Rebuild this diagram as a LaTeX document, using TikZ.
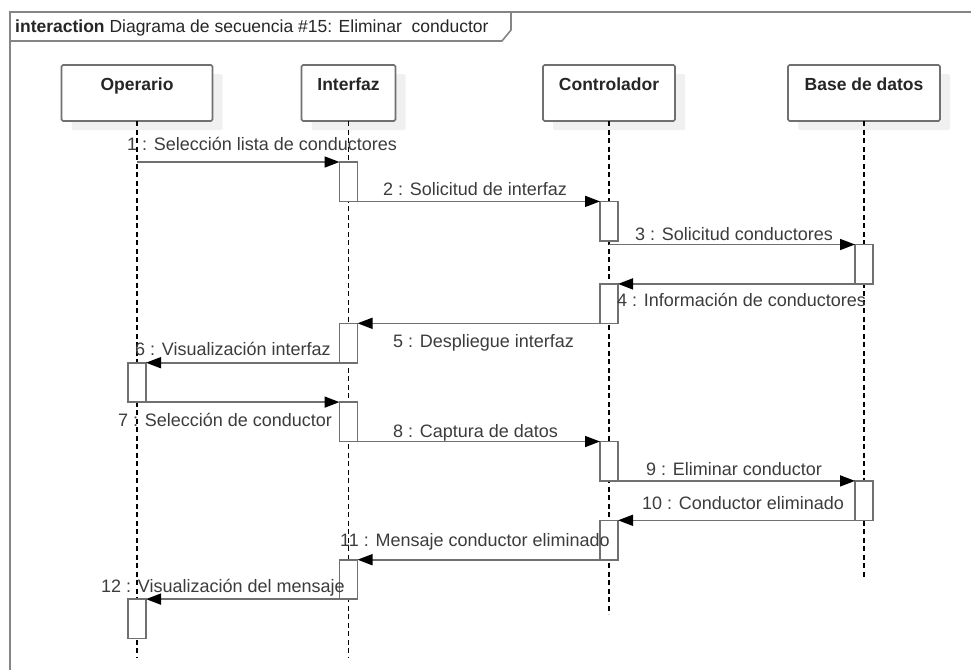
\documentclass[tikz,border=0pt]{standalone}
\usepackage{fontspec}
\setmainfont{Liberation Sans}
\usepackage{tikz}
\usetikzlibrary{arrows.meta,shadows,positioning}

\definecolor{linegray}{HTML}{707070}
\definecolor{framegray}{HTML}{858585}
\definecolor{textgray}{HTML}{3C3C3C}

\tikzset{
  umlfont/.style={font=\fontsize{18}{21}\selectfont},
  head/.style={draw=linegray, line width=1.6pt, fill=white, rounded corners=1.5pt,
    anchor=north, inner xsep=0pt, inner ysep=0pt, outer sep=0pt,
    text height=25pt, text depth=31pt,
    font={\fontsize{17.5}{21}\selectfont\bfseries}, text=black!85,
    drop shadow={shadow xshift=10pt, shadow yshift=-9pt, fill=black!6, opacity=1}},
  act/.style={draw=linegray, line width=1.6pt, fill=white, anchor=north,
    minimum width=18pt, minimum height=39.4pt, inner sep=0pt, outer sep=0pt},
  msg/.style={draw=linegray, line width=1.6pt,
    -{Triangle[length=15pt,width=11pt,color=black]}},
  lifeline/.style={black, line width=1.3pt, dash pattern=on 5pt off 3.5pt},
  lbl/.style={umlfont, text=textgray, inner sep=0pt, anchor=base west},
  frame/.style={draw=framegray, line width=1.6pt}
}

\begin{document}
\begin{tikzpicture}[x=1pt, y=-1pt]
  \useasboundingbox (0,0) rectangle (971,669);

  % frame
  \draw[frame] (10,690) -- (10,12) -- (990,12);
  \draw[frame] (10,41) -- (502,41) -- (511,30) -- (511,12);
  \node[lbl, font=\fontsize{17.5}{21}\selectfont, text=black!85] (title) at (15,33)
    {\textbf{interaction} Diagrama de secuencia \#15: Eliminar\ \ conductor};

  % lifelines
  \node[head, minimum width=151pt] (op)  at (137,65)   {Operario};
  \node[head, minimum width=94pt]  (ifz) at (348.5,65) {Interfaz};
  \node[head, minimum width=132pt] (ctl) at (609,65)   {Controlador};
  \node[head, minimum width=152pt] (db)  at (864,65)   {Base de datos};

  \coordinate (opEnd)  at (137,657);
  \coordinate (ifzEnd) at (348.5,657);
  \coordinate (ctlEnd) at (609,614);
  \coordinate (dbEnd)  at (864,579);

  \draw[lifeline] (op.south)  -- (opEnd);
  \draw[lifeline] (ifz.south) -- (ifzEnd);
  \draw[lifeline] (ctl.south) -- (ctlEnd);
  \draw[lifeline] (db.south)  -- (dbEnd);

  % activations
  \node[act] (i1) at (ifz |- 0,162) {};
  \node[act] (c1) at (ctl |- i1.south) {};
  \node[act, yshift=-3.7pt] (b1) at (db |- c1.south) {};
  \node[act] (c2) at (ctl |- b1.south) {};
  \node[act] (i2) at (ifz |- c2.south) {};
  \node[act] (o1) at (op |- i2.south) {};
  \node[act] (i3) at (ifz |- o1.south) {};
  \node[act] (c3) at (ctl |- i3.south) {};
  \node[act] (b2) at (db |- c3.south) {};
  \node[act] (c4) at (ctl |- b2.south) {};
  \node[act] (i4) at (ifz |- c4.south) {};
  \node[act] (o2) at (op |- i4.south) {};

  % messages
  \draw[msg] (op |- i1.north) -- (i1.north west);
  \draw[msg] (i1.south east) -- (c1.north west);
  \draw[msg] (ctl |- b1.north) -- (b1.north west);
  \draw[msg] (b1.south west) -- (c2.north east);
  \draw[msg] (c2.south west) -- (i2.north east);
  \draw[msg] (i2.south west) -- (o1.north east);
  \draw[msg] (o1.south east) -- (i3.north west);
  \draw[msg] (i3.south east) -- (c3.north west);
  \draw[msg] (c3.south east) -- (b2.north west);
  \draw[msg] (b2.south west) -- (c4.north east);
  \draw[msg] (c4.south west) -- (i4.north east);
  \draw[msg] (i4.south west) -- (o2.north east);

  \node[lbl] (l1)  at (127,150) {1 : Selección lista de conductores};
  \node[lbl] (l2)  at (383,195) {2 : Solicitud de interfaz};
  \node[lbl] (l3)  at (635,240) {3 : Solicitud conductores};
  \node[lbl] (l4)  at (617,306) {4 : Información de conductores};
  \node[lbl] (l5)  at (393,347) {5 : Despliegue interfaz};
  \node[lbl] (l6)  at (135,355) {6 : Visualización interfaz};
  \node[lbl] (l7)  at (118,426) {7 : Selección de conductor};
  \node[lbl] (l8)  at (393,437) {8 : Captura de datos};
  \node[lbl] (l9)  at (646,475) {9 : Eliminar conductor};
  \node[lbl] (l10) at (642,509) {10 : Conductor eliminado};
  \node[lbl] (l11) at (340,546) {11 : Mensaje conductor eliminado};
  \node[lbl] (l12) at (101,592) {12 : Visualización del mensaje};
\end{tikzpicture}
\end{document}
